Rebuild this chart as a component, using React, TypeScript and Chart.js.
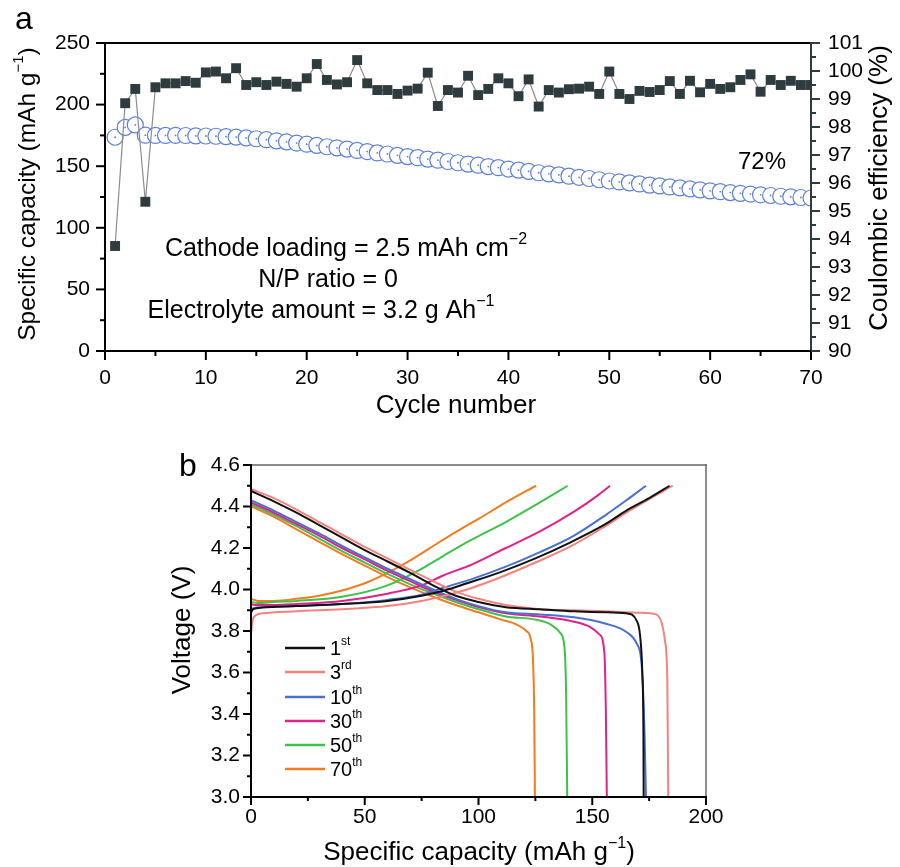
import React, { useEffect, useRef } from 'react';
import { Chart, registerables } from 'chart.js';

Chart.register(...registerables);

const FONT = 'Arial, "Liberation Sans", Helvetica, sans-serif';
Chart.defaults.font.family = FONT;
Chart.defaults.color = '#000';

// ---------- Panel a data ----------
const cycles = [
  1, 2, 3, 4, 5, 6, 7, 8, 9, 10, 11, 12, 13, 14, 15, 16, 17, 18, 19, 20,
  21, 22, 23, 24, 25, 26, 27, 28, 29, 30, 31, 32, 33, 34, 35, 36, 37, 38, 39, 40,
  41, 42, 43, 44, 45, 46, 47, 48, 49, 50, 51, 52, 53, 54, 55, 56, 57, 58, 59, 60,
  61, 62, 63, 64, 65, 66, 67, 68, 69, 70,
];
const specificCapacity = [
  173.5, 181.5, 183.5, 175.2, 175.0, 175.0, 175.1, 174.9, 174.6, 174.5,
  174.3, 174.0, 173.6, 173.0, 172.3, 171.5, 170.6, 169.8, 168.8, 167.9,
  166.9, 165.8, 164.9, 163.9, 162.8, 161.9, 160.8, 159.9, 158.8, 157.8,
  156.9, 155.8, 154.9, 153.8, 152.8, 151.7, 150.8, 149.7, 148.8, 147.7,
  146.8, 145.8, 144.7, 143.8, 142.9, 141.9, 141.0, 140.0, 139.0, 138.0,
  137.2, 136.4, 135.6, 134.7, 134.0, 133.2, 132.4, 131.6, 130.8, 130.0,
  129.3, 128.6, 128.0, 127.4, 126.8, 126.2, 125.6, 125.1, 124.6, 124.2,
];
const coulombicEfficiency = [
  93.75, 98.85, 99.36, 95.33, 99.42, 99.56, 99.56, 99.64, 99.58, 99.95,
  99.98, 99.74, 100.1, 99.5, 99.6, 99.5, 99.62, 99.54, 99.44, 99.74,
  100.25, 99.68, 99.52, 99.6, 100.39, 99.56, 99.32, 99.32, 99.18, 99.3,
  99.37, 99.94, 98.75, 99.32, 99.23, 99.83, 99.14, 99.36, 99.74, 99.56,
  99.1, 99.7, 98.73, 99.32, 99.23, 99.35, 99.37, 99.44, 99.18, 99.98,
  99.18, 99.0, 99.29, 99.25, 99.32, 99.64, 99.18, 99.65, 99.24, 99.54,
  99.36, 99.42, 99.68, 99.88, 99.26, 99.68, 99.5, 99.65, 99.5, 99.5,
];

// ---------- Panel b data (capacity mAh/g, voltage V) ----------
const charge1st = [[0, 3.89], [1, 3.905], [5, 3.913], [20, 3.92], [40, 3.93], [60, 3.945], [75, 3.97], [85, 3.995], [95, 4.03], [110, 4.085], [125, 4.15], [140, 4.225], [155, 4.31], [165, 4.38], [175, 4.44], [184, 4.5]];
const discharge1st = [[0, 4.475], [10, 4.425], [20, 4.37], [30, 4.31], [40, 4.25], [50, 4.19], [60, 4.135], [70, 4.08], [80, 4.02], [90, 3.97], [100, 3.94], [112, 3.915], [127, 3.905], [142, 3.895], [156, 3.89], [165, 3.885], [169.5, 3.85], [171, 3.78], [172, 3.6], [172.5, 3.3], [172.6, 3.0]];
const charge3rd = [[0, 3.78], [0.5, 3.84], [2, 3.875], [5, 3.885], [20, 3.895], [40, 3.905], [60, 3.92], [75, 3.945], [85, 3.97], [95, 4.0], [110, 4.06], [125, 4.13], [140, 4.205], [155, 4.3], [165, 4.37], [175, 4.435], [185.4, 4.5]];
const discharge3rd = [[0, 4.485], [10, 4.44], [20, 4.385], [30, 4.325], [40, 4.265], [50, 4.205], [60, 4.15], [70, 4.095], [80, 4.04], [90, 3.99], [100, 3.955], [112, 3.925], [127, 3.905], [142, 3.9], [156, 3.895], [171, 3.888], [178, 3.88], [180.5, 3.84], [182, 3.75], [183, 3.56], [183.4, 3.0]];
const charge10th = [[0, 3.9], [1, 3.91], [5, 3.915], [20, 3.92], [40, 3.93], [60, 3.95], [75, 3.975], [85, 4.01], [97, 4.05], [112, 4.11], [127, 4.18], [142, 4.26], [156, 4.36], [165, 4.43], [173.6, 4.5]];
const discharge10th = [[0, 4.43], [10, 4.38], [20, 4.325], [30, 4.27], [40, 4.21], [50, 4.155], [60, 4.1], [70, 4.05], [80, 4.0], [90, 3.955], [100, 3.92], [112, 3.89], [127, 3.88], [142, 3.866], [156, 3.835], [165, 3.795], [169.5, 3.74], [171.7, 3.64], [173, 3.3], [173.6, 3.0]];
const charge30th = [[0, 3.93], [2, 3.925], [10, 3.925], [20, 3.93], [40, 3.945], [60, 3.98], [75, 4.02], [85, 4.07], [97, 4.12], [112, 4.2], [127, 4.28], [142, 4.375], [152, 4.45], [157.8, 4.5]];
const discharge30th = [[0, 4.42], [10, 4.37], [20, 4.315], [30, 4.26], [40, 4.2], [50, 4.145], [60, 4.09], [70, 4.04], [80, 3.99], [90, 3.95], [100, 3.915], [112, 3.885], [127, 3.87], [142, 3.845], [149, 3.82], [153, 3.785], [155.3, 3.7], [156, 3.4], [156.4, 3.0]];
const charge50th = [[0, 3.94], [3, 3.935], [10, 3.94], [20, 3.945], [40, 3.965], [60, 4.02], [75, 4.1], [85, 4.165], [97, 4.24], [112, 4.325], [127, 4.42], [139.2, 4.5]];
const discharge50th = [[0, 4.41], [10, 4.36], [20, 4.305], [30, 4.245], [40, 4.185], [50, 4.13], [60, 4.075], [70, 4.025], [80, 3.98], [90, 3.94], [100, 3.905], [112, 3.87], [125, 3.855], [132, 3.83], [136, 3.79], [137.8, 3.72], [138.5, 3.5], [139, 3.0]];
const charge70th = [[0, 3.955], [3, 3.945], [10, 3.945], [20, 3.955], [30, 3.97], [40, 3.995], [50, 4.03], [60, 4.08], [70, 4.14], [83, 4.23], [92, 4.29], [100, 4.34], [112, 4.42], [125.3, 4.5]];
const discharge70th = [[0, 4.4], [10, 4.35], [20, 4.29], [30, 4.23], [40, 4.17], [50, 4.115], [60, 4.06], [70, 4.01], [80, 3.965], [90, 3.925], [100, 3.89], [110, 3.855], [117, 3.83], [121, 3.8], [123, 3.76], [124, 3.65], [124.5, 3.4], [124.8, 3.0]];

const cycleLabels = ['1', '3', '10', '30', '50', '70'];
const cycleSuffixes = ['st', 'rd', 'th', 'th', 'th', 'th'];
const cycleColors = ['#111111', '#f4837d', '#4a6fd0', '#e0218a', '#3cc34a', '#f47b20'];
const chargeCurves = [charge1st, charge3rd, charge10th, charge30th, charge50th, charge70th];
const dischargeCurves = [discharge1st, discharge3rd, discharge10th, discharge30th, discharge50th, discharge70th];

// ---------- helpers ----------
type Part = { t: string; sup?: boolean };

function drawRich(ctx: CanvasRenderingContext2D, parts: Part[], cx: number, cy: number, size: number, rotation = 0, align: 'center' | 'left' = 'center') {
  const main = `${size}px ${FONT}`;
  const small = `${Math.round(size * 0.62)}px ${FONT}`;
  ctx.save();
  ctx.translate(cx, cy);
  ctx.rotate(rotation);
  let w = 0;
  for (const p of parts) {
    ctx.font = p.sup ? small : main;
    w += ctx.measureText(p.t).width;
  }
  let x = align === 'center' ? -w / 2 : 0;
  ctx.textBaseline = 'middle';
  ctx.textAlign = 'left';
  ctx.fillStyle = '#000';
  for (const p of parts) {
    ctx.font = p.sup ? small : main;
    ctx.fillText(p.t, x, p.sup ? -size * 0.36 : 0);
    x += ctx.measureText(p.t).width;
  }
  ctx.restore();
}

type TickSpec = { id: string; side: 'left' | 'right' | 'bottom'; min: number; max: number; minor: number; major: number; color: string };

function drawTicks(chart: any, specs: TickSpec[], majorLen: number, minorLen: number, lw: number) {
  const ctx = chart.ctx as CanvasRenderingContext2D;
  const area = chart.chartArea;
  ctx.save();
  ctx.lineWidth = lw;
  for (const s of specs) {
    const scale = chart.scales[s.id];
    ctx.strokeStyle = s.color;
    const n = Math.round((s.max - s.min) / s.minor);
    for (let i = 0; i <= n; i++) {
      const v = s.min + i * s.minor;
      const r = v / s.major;
      const isMajor = Math.abs(r - Math.round(r)) < 1e-6;
      const len = isMajor ? majorLen : minorLen;
      const p = scale.getPixelForValue(v);
      ctx.beginPath();
      if (s.side === 'left') {
        ctx.moveTo(area.left, p);
        ctx.lineTo(area.left - len, p);
      } else if (s.side === 'right') {
        ctx.moveTo(area.right, p);
        ctx.lineTo(area.right + len, p);
      } else {
        ctx.moveTo(p, area.bottom);
        ctx.lineTo(p, area.bottom + len);
      }
      ctx.stroke();
    }
  }
  ctx.restore();
}

function drawFrame(chart: any, colors: { left: string; bottom: string; top: string; right: string }, widths: { left: number; bottom: number; top: number; right: number }) {
  const ctx = chart.ctx as CanvasRenderingContext2D;
  const a = chart.chartArea;
  ctx.save();
  ctx.lineCap = 'square';
  const line = (x1: number, y1: number, x2: number, y2: number, c: string, w: number) => {
    ctx.strokeStyle = c;
    ctx.lineWidth = w;
    ctx.beginPath();
    ctx.moveTo(x1, y1);
    ctx.lineTo(x2, y2);
    ctx.stroke();
  };
  line(a.left, a.top, a.right, a.top, colors.top, widths.top);
  line(a.right, a.top, a.right, a.bottom, colors.right, widths.right);
  line(a.left, a.bottom, a.right, a.bottom, colors.bottom, widths.bottom);
  line(a.left, a.top, a.left, a.bottom, colors.left, widths.left);
  ctx.restore();
}

const tickFont = { size: 21 };

// ---------- Panel a ----------
const panelAPlugin = {
  id: 'panelA',
  afterDraw(chart: any) {
    const ctx = chart.ctx as CanvasRenderingContext2D;
    drawFrame(chart, { left: '#000', bottom: '#000', top: '#000', right: '#2e3b3f' }, { left: 2, bottom: 2, top: 2, right: 2 });
    drawTicks(chart, [
      { id: 'x', side: 'bottom', min: 0, max: 70, minor: 5, major: 10, color: '#000' },
      { id: 'y', side: 'left', min: 0, max: 250, minor: 25, major: 50, color: '#000' },
      { id: 'y1', side: 'right', min: 90, max: 101, minor: 0.5, major: 1, color: '#2e3b3f' },
    ], 9, 5, 2);
    drawRich(ctx, [{ t: 'a' }], 24, 20, 32);
    drawRich(ctx, [{ t: 'Specific capacity (mAh g' }, { t: '\u22121', sup: true }, { t: ')' }], 28, 194, 24.5, -Math.PI / 2);
    drawRich(ctx, [{ t: 'Coulombic efficiency (%)' }], 880, 188, 26, -Math.PI / 2);
    drawRich(ctx, [{ t: 'Cycle number' }], 456, 406, 26);
    drawRich(ctx, [{ t: 'Cathode loading = 2.5 mAh cm' }, { t: '\u22122', sup: true }], 346, 249, 25);
    drawRich(ctx, [{ t: 'N/P ratio = 0' }], 328, 280, 25);
    drawRich(ctx, [{ t: 'Electrolyte amount = 3.2 g Ah' }, { t: '\u22121', sup: true }], 321, 311, 25);
    drawRich(ctx, [{ t: '72%' }], 762, 162, 24);
  },
};

function makeConfigA(): any {
  return {
    type: 'line',
    data: {
      datasets: [
        {
          label: 'Coulombic efficiency',
          data: cycles.map((c, i) => ({ x: c, y: coulombicEfficiency[i] })),
          yAxisID: 'y1',
          borderColor: '#8c8c8c',
          borderWidth: 1.2,
          pointStyle: 'rect',
          pointRadius: 7,
          pointBackgroundColor: '#2e3b3f',
          pointBorderColor: '#2e3b3f',
          pointBorderWidth: 0,
          tension: 0,
        },
        {
          label: 'capacity centers',
          data: cycles.map((c, i) => ({ x: c, y: specificCapacity[i] })),
          yAxisID: 'y',
          showLine: false,
          pointRadius: 0.9,
          pointBorderWidth: 0,
          pointBackgroundColor: '#5b7fd9',
        },
        {
          label: 'Specific capacity',
          data: cycles.map((c, i) => ({ x: c, y: specificCapacity[i] })),
          yAxisID: 'y',
          showLine: false,
          pointStyle: 'circle',
          pointRadius: 8,
          pointBackgroundColor: '#ffffff',
          pointBorderColor: '#5b7fd9',
          pointBorderWidth: 1.2,
        },
      ],
    },
    options: {
      responsive: false,
      animation: false,
      events: [],
      layout: { padding: { top: 43, left: 0, right: 0, bottom: 0 } },
      plugins: { legend: { display: false }, tooltip: { enabled: false } },
      scales: {
        x: {
          type: 'linear', min: 0, max: 70,
          ticks: { stepSize: 10, padding: 15, font: tickFont, color: '#000', autoSkip: false, maxRotation: 0 },
          grid: { display: false, drawTicks: false },
          border: { display: false },
          afterFit: (s: any) => { s.height = 79; },
        },
        y: {
          type: 'linear', position: 'left', min: 0, max: 250,
          ticks: { stepSize: 50, padding: 15, font: tickFont, color: '#000', autoSkip: false },
          grid: { display: false, drawTicks: false },
          border: { display: false },
          afterFit: (s: any) => { s.width = 105; },
        },
        y1: {
          type: 'linear', position: 'right', min: 90, max: 101,
          ticks: { stepSize: 1, padding: 17, font: tickFont, color: '#000', autoSkip: false },
          grid: { display: false, drawTicks: false },
          border: { display: false },
          afterFit: (s: any) => { s.width = 89; },
        },
      },
    },
    plugins: [panelAPlugin],
  };
}

// ---------- Panel b ----------
const panelBPlugin = {
  id: 'panelB',
  afterDraw(chart: any) {
    const ctx = chart.ctx as CanvasRenderingContext2D;
    drawFrame(chart, { left: '#000', bottom: '#000', top: '#666', right: '#666' }, { left: 2, bottom: 2, top: 1.5, right: 1.5 });
    drawTicks(chart, [
      { id: 'x', side: 'bottom', min: 0, max: 200, minor: 25, major: 50, color: '#000' },
      { id: 'y', side: 'left', min: 3.0, max: 4.6, minor: 0.1, major: 0.2, color: '#000' },
    ], 8, 4, 2);
    drawRich(ctx, [{ t: 'b' }], 188, 37, 32);
    drawRich(ctx, [{ t: 'Voltage (V)' }], 183, 200, 26, -Math.PI / 2);
    drawRich(ctx, [{ t: 'Specific capacity (mAh g' }, { t: '\u22121', sup: true }, { t: ')' }], 479, 423, 26);
    // legend
    const rowY = [218, 242, 267, 291, 315, 339];
    cycleLabels.forEach((lab, i) => {
      ctx.save();
      ctx.strokeStyle = cycleColors[i];
      ctx.lineWidth = 2.5;
      ctx.beginPath();
      ctx.moveTo(285, rowY[i]);
      ctx.lineTo(325, rowY[i]);
      ctx.stroke();
      ctx.restore();
      drawRich(ctx, [{ t: lab }, { t: cycleSuffixes[i], sup: true }], 330, rowY[i] + 1, 20, 0, 'left');
    });
  },
};

function makeConfigB(): any {
  const datasets: any[] = [];
  cycleLabels.forEach((lab, i) => {
    [chargeCurves[i], dischargeCurves[i]].forEach((curve, k) => {
      datasets.push({
        label: `${lab}${cycleSuffixes[i]} ${k === 0 ? 'charge' : 'discharge'}`,
        data: curve.map(([x, y]) => ({ x, y })),
        borderColor: cycleColors[i],
        borderWidth: 2,
        pointRadius: 0,
        fill: false,
        cubicInterpolationMode: 'monotone',
      });
    });
  });
  return {
    type: 'line',
    data: { datasets },
    options: {
      responsive: false,
      animation: false,
      events: [],
      layout: { padding: { top: 35, left: 0, right: 194, bottom: 0 } },
      plugins: { legend: { display: false }, tooltip: { enabled: false } },
      scales: {
        x: {
          type: 'linear', min: 0, max: 200,
          ticks: { stepSize: 50, padding: 8, font: tickFont, color: '#000', autoSkip: false, maxRotation: 0 },
          grid: { display: false, drawTicks: false },
          border: { display: false },
          afterFit: (s: any) => { s.height = 70; },
        },
        y: {
          type: 'linear', min: 3.0, max: 4.6,
          ticks: { stepSize: 0.2, padding: 11, font: tickFont, color: '#000', autoSkip: false, callback: (v: any) => Number(v).toFixed(1) },
          grid: { display: false, drawTicks: false },
          border: { display: false },
          afterFit: (s: any) => { s.width = 251; },
        },
      },
    },
    plugins: [panelBPlugin],
  };
}

export default function App() {
  const refA = useRef<HTMLCanvasElement>(null);
  const refB = useRef<HTMLCanvasElement>(null);
  useEffect(() => {
    const a = new Chart(refA.current as HTMLCanvasElement, makeConfigA());
    const b = new Chart(refB.current as HTMLCanvasElement, makeConfigB());
    return () => {
      a.destroy();
      b.destroy();
    };
  }, []);
  return (
    <div style={{ position: 'fixed', left: 0, top: 0, width: 900, height: 867, background: '#fff', overflow: 'hidden' }}>
      <canvas ref={refA} width={900} height={430} style={{ position: 'absolute', left: 0, top: 0, width: 900, height: 430 }} />
      <canvas ref={refB} width={900} height={437} style={{ position: 'absolute', left: 0, top: 430, width: 900, height: 437 }} />
    </div>
  );
}
